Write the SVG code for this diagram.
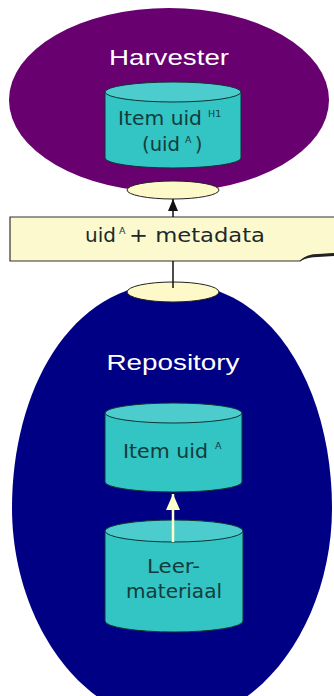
<svg xmlns="http://www.w3.org/2000/svg" width="334" height="696" viewBox="0 0 334 696">
<defs>
<style>
.cylb{fill:#33c4c4;stroke:#0d3535;stroke-width:1}
.cylt{fill:#4ccccc;stroke:#0d3535;stroke-width:1}
.ct{font-family:"DejaVu Sans",Verdana,sans-serif;font-size:19px;fill:#123c3c}
.bt{font-family:"DejaVu Sans",Verdana,sans-serif;font-size:20px;fill:#1a2a2a}
.sup{font-family:"DejaVu Sans",Verdana,sans-serif;font-size:9.5px;fill:#123c3c}
.title{font-family:"Liberation Sans",Arial,sans-serif;font-size:22px;fill:#ffffff}
.port{fill:#fdf9c8;stroke:#222222;stroke-width:1}
</style>
<marker id="ab" viewBox="0 0 12 10" refX="12" refY="5" markerWidth="12" markerHeight="10" markerUnits="userSpaceOnUse" orient="auto">
<path d="M0,0 L12,5 L0,10 Z" fill="#111111"/>
</marker>
<marker id="ay" viewBox="0 0 16 14" refX="16" refY="7" markerWidth="16" markerHeight="14" markerUnits="userSpaceOnUse" orient="auto">
<path d="M0,0 L16,7 L0,14 Z" fill="#ffffcc"/>
</marker>
</defs>
<rect width="334" height="696" fill="#ffffff"/>

<g id="harvester">
<ellipse cx="169" cy="100" rx="160" ry="92" fill="#680070"/>
<text class="title" x="169" y="65" text-anchor="middle" textLength="120" lengthAdjust="spacingAndGlyphs">Harvester</text>
</g>

<g id="item-harvester">
<path class="cylb" d="M105,92 V158 A68,10 0 0 0 241,158 V92 Z"/>
<ellipse class="cylt" cx="173" cy="92" rx="68" ry="10"/>
<text class="ct" x="118" y="125" textLength="84" lengthAdjust="spacingAndGlyphs">Item uid</text>
<text class="sup" x="208" y="117">H1</text>
<text class="ct" x="142" y="151" textLength="38" lengthAdjust="spacingAndGlyphs">(uid</text>
<text class="sup" x="185" y="143">A</text>
<text class="ct" x="195" y="151">)</text>
</g>

<g id="port-top">
<ellipse class="port" cx="173" cy="190" rx="46" ry="9"/>
</g>

<g id="repository">
<path d="M172,283 C275,283 332,392 332,508 C332,620 262,722 172,722 C82,722 12,620 12,508 C12,392 69,283 172,283 Z" fill="#000084"/>
<text class="title" x="173" y="370" text-anchor="middle" textLength="133" lengthAdjust="spacingAndGlyphs">Repository</text>
</g>

<g id="port-bottom">
<ellipse class="port" cx="173" cy="292" rx="46" ry="10"/>
</g>

<g id="message">
<path d="M10,217 H336 V254 L315,255 Q306,256 300,261 H10 Z" fill="#fdf9cf" stroke="#333333" stroke-width="1.2"/>
<path d="M300,261 Q306,254 318,254 L334,253 L334,256 L318,257 Q308,257 300,261 Z" fill="#222222"/>
<text class="bt" x="85" y="242">uid</text>
<text class="sup" x="119" y="234">A</text>
<text class="bt" x="129" y="242" textLength="136" lengthAdjust="spacingAndGlyphs">+ metadata</text>
</g>

<g id="item-repository">
<path class="cylb" d="M105,413 V482 A68.5,10 0 0 0 242,482 V413 Z"/>
<ellipse class="cylt" cx="173.5" cy="413" rx="68.5" ry="10"/>
<text class="ct" x="123" y="458" textLength="85" lengthAdjust="spacingAndGlyphs">Item uid</text>
<text class="sup" x="215" y="449">A</text>
</g>

<g id="leermateriaal">
<path class="cylb" d="M105,531 V621 A69,11 0 0 0 243,621 V531 Z"/>
<ellipse class="cylt" cx="174" cy="531" rx="69" ry="11"/>
<text class="ct" x="147" y="573" textLength="53" lengthAdjust="spacingAndGlyphs">Leer-</text>
<text class="ct" x="126" y="598" textLength="96" lengthAdjust="spacingAndGlyphs">materiaal</text>
</g>

<g id="connectors">
<line x1="173" y1="261" x2="173" y2="288" stroke="#111111" stroke-width="1.5"/>
<line x1="173" y1="217" x2="173" y2="199" stroke="#111111" stroke-width="1.5" marker-end="url(#ab)"/>
<line x1="173" y1="542" x2="173" y2="494" stroke="#ffffc8" stroke-width="2.5" marker-end="url(#ay)"/>
</g>
</svg>
